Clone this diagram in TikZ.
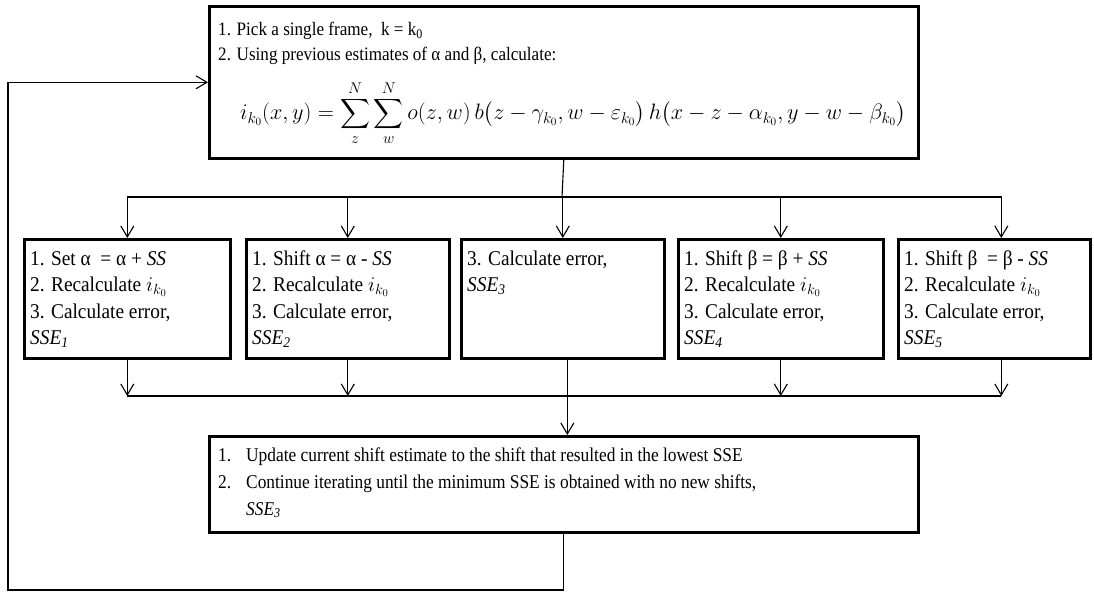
\RequirePackage{fix-cm}
\documentclass[tikz,border=0pt]{standalone}
\usepackage{amsmath}
\usepackage{fontspec}
\setmainfont{Liberation Serif}
\newfontfamily\topfont{Liberation Serif}[FakeStretch=0.9]
\newfontfamily\rowfont{Liberation Serif}[FakeStretch=0.92]
\newfontfamily\botfont{Liberation Serif}[FakeStretch=0.89]
\usetikzlibrary{arrows.meta,calc}

\tikzset{
  box/.style={draw, line width=2.6pt, anchor=north west, inner sep=0pt},
  txt/.style={anchor=base west, inner sep=0pt},
  toptxt/.style={txt, font=\topfont\fontsize{19}{22}\selectfont},
  rowtxt/.style={txt, font=\rowfont\fontsize{21}{26}\selectfont},
  bottxt/.style={txt, font=\botfont\fontsize{19.5}{23}\selectfont},
  link/.style={line width=1.1pt},
  arr/.style={link, -{Straight Barb[length=11pt,width=13pt,line width=1.1pt]}},
}

\begin{document}
\begin{tikzpicture}[x=1pt,y=-1pt]
\useasboundingbox (0,0) rectangle (1094,594);

% main boxes
\node[box, minimum width=709pt, minimum height=152pt] (top) at (208,5) {};
\node[box, minimum width=206pt, minimum height=119pt] (b1) at (23,238) {};
\node[box, minimum width=203pt, minimum height=119pt] (b2) at (245,238) {};
\node[box, minimum width=203pt, minimum height=119pt] (b3) at (460,238) {};
\node[box, minimum width=205pt, minimum height=119pt] (b4) at (677,238) {};
\node[box, minimum width=192pt, minimum height=119pt] (b5) at (897,238) {};
\node[box, minimum width=709pt, minimum height=96pt] (bot) at (208,435) {};

% top box text
\node[toptxt] (t1) at (218,36) {1. Pick a single frame, \ k = k\textsubscript{0}};
\node[toptxt] (t2) at (218,60) {2. Using previous estimates of α and β, calculate:};
\node[anchor=west, inner sep=0pt, font=\fontsize{22.3}{26}\selectfont] (eq) at (240,113)
  {$\displaystyle i_{k_0}(x,y)=\sum_{z}^{N}\sum_{w}^{N} o(z,w)\,b\bigl(z-\gamma_{k_0},w-\varepsilon_{k_0}\bigr)\,h\bigl(x-z-\alpha_{k_0},y-w-\beta_{k_0}\bigr)$};

% row box texts
\node[rowtxt] (a1) at (30,265) {1. Set α \ = α + \textit{SS}};
\node[rowtxt] (a2) at (30,291.5) {2. Recalculate $i_{k_0}$};
\node[rowtxt] (a3) at (30,318) {3. Calculate error,};
\node[rowtxt] (a4) at (30,344.5) {\textit{SSE\textsubscript{1}}};

\node[rowtxt] (c1) at (252,265) {1. Shift α = α - \textit{SS}};
\node[rowtxt] (c2) at (252,291.5) {2. Recalculate $i_{k_0}$};
\node[rowtxt] (c3) at (252,318) {3. Calculate error,};
\node[rowtxt] (c4) at (252,344.5) {\textit{SSE\textsubscript{2}}};

\node[rowtxt] (d1) at (467,265) {3. Calculate error,};
\node[rowtxt] (d2) at (467,291.5) {\textit{SSE\textsubscript{3}}};

\node[rowtxt] (e1) at (684,265) {1. Shift β = β + \textit{SS}};
\node[rowtxt] (e2) at (684,291.5) {2. Recalculate $i_{k_0}$};
\node[rowtxt] (e3) at (684,318) {3. Calculate error,};
\node[rowtxt] (e4) at (684,344.5) {\textit{SSE\textsubscript{4}}};

\node[rowtxt] (f1) at (904,265) {1. Shift β \ = β - \textit{SS}};
\node[rowtxt] (f2) at (904,291.5) {2. Recalculate $i_{k_0}$};
\node[rowtxt] (f3) at (904,318) {3. Calculate error,};
\node[rowtxt] (f4) at (904,344.5) {\textit{SSE\textsubscript{5}}};

% bottom box text
\node[bottxt] (g1) at (218,461) {1.};
\node[bottxt] (g2) at (246,461) {Update current shift estimate to the shift that resulted in the lowest SSE};
\node[bottxt] (g3) at (218,488) {2.};
\node[bottxt] (g4) at (246,488) {Continue iterating until the minimum SSE is obtained with no new shifts,};
\node[bottxt] (g5) at (246,515) {\textit{SSE\textsubscript{3}}};

% connectors
\coordinate (split) at (562,197);
\coordinate (merge) at (566,396);
\coordinate (b5in) at ([xshift=7pt]b5.north);
\coordinate (b5out) at ([xshift=7pt]b5.south);
\coordinate (b3out) at ([xshift=4.5pt]b3.south);
\coordinate (loop) at (8,590);

\draw[link] (top.south) -- (split);
\draw[arr] (split) -| (b1.north);
\draw[arr] (split) -| (b2.north);
\draw[arr] (split) -| (b3.north);
\draw[arr] (split) -| (b4.north);
\draw[arr] (split) -| (b5in);

\draw[arr] (b1.south) -- (b1.south |- merge);
\draw[arr] (b2.south) -- (b2.south |- merge);
\draw[arr] (b4.south) -- (b4.south |- merge);
\draw[arr] (b5out) -- (b5out |- merge);
\draw[link] (b1.south |- merge) -- (b5out |- merge);
\draw[arr] (b3out) -- (b3out |- bot.north);

\draw[arr] (bot.south) |- (loop) |- (top.west);
\end{tikzpicture}
\end{document}
